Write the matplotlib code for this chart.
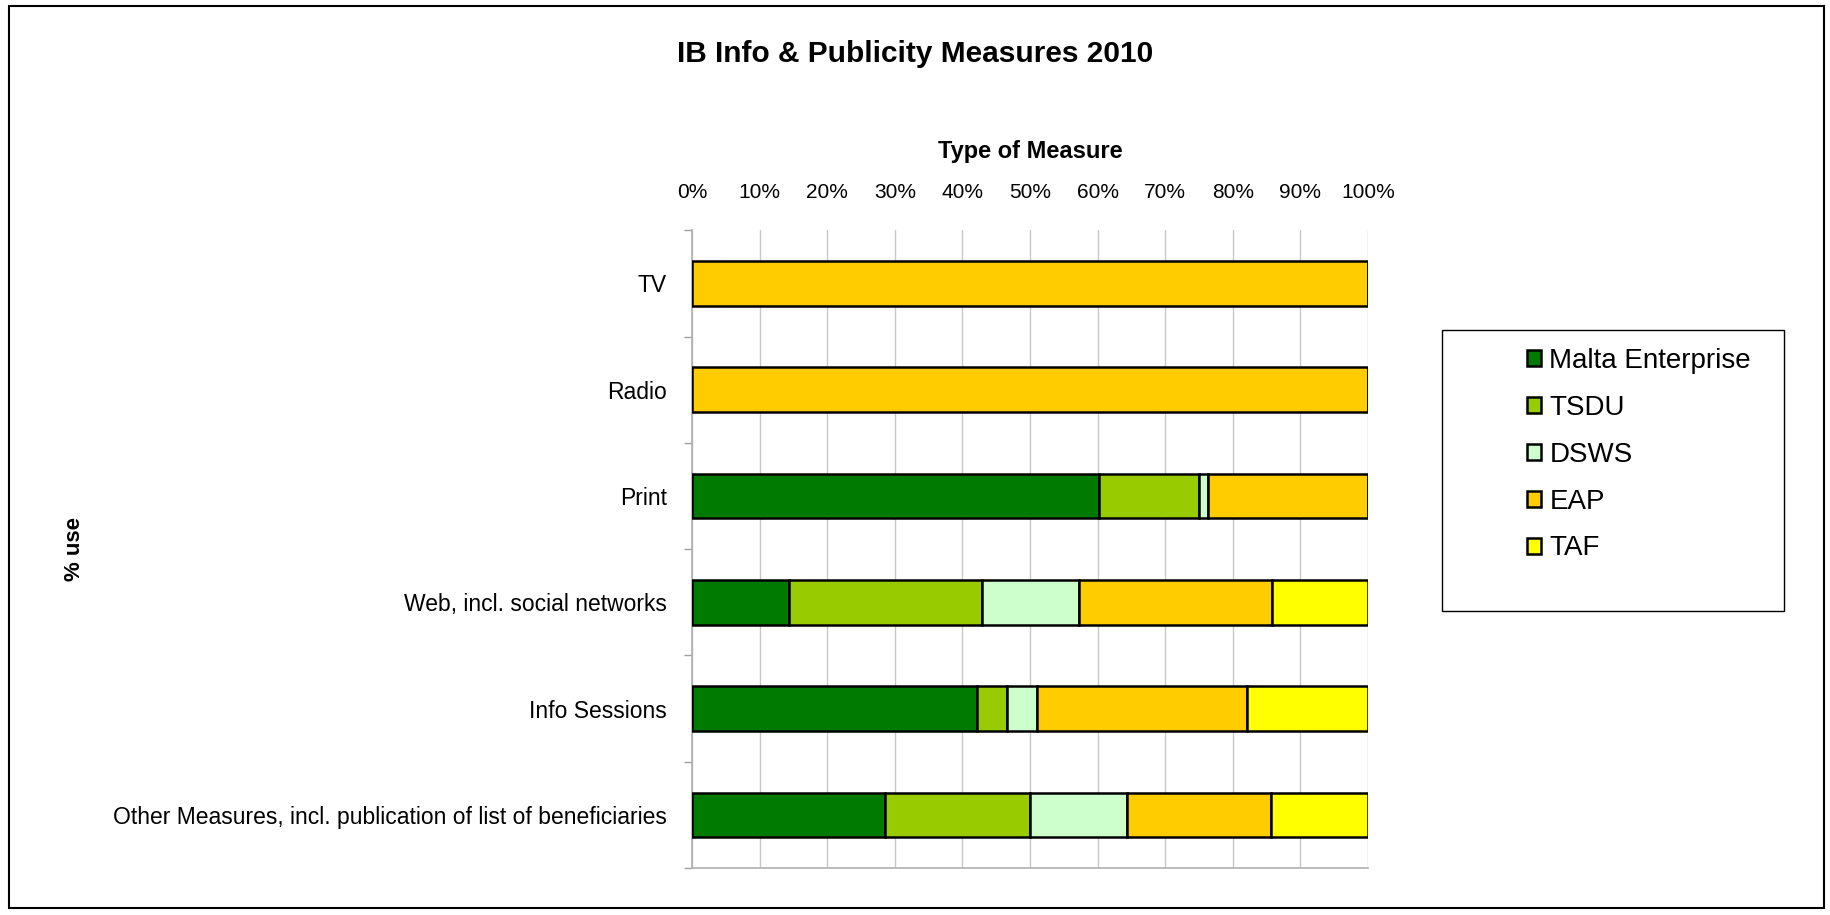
import numpy as np
import matplotlib.pyplot as plt
from matplotlib.patches import Rectangle

plt.rcParams['font.family'] = ['Liberation Sans', 'DejaVu Sans']

categories = ['TV', 'Radio', 'Print', 'Web, incl. social networks', 'Info Sessions',
              'Other Measures, incl. publication of list of beneficiaries']
series = ['Malta Enterprise', 'TSDU', 'DSWS', 'EAP', 'TAF']
colours = ['#007A00', '#99CC00', '#CCFFCC', '#FFCC00', '#FFFF00']

# share of each body per measure (%)
malta_ent = [0, 0, 60.2, 14.3, 42.2, 28.6]
tsdu = [0, 0, 14.8, 28.6, 4.4, 21.4]
dsws = [0, 0, 1.3, 14.3, 4.4, 14.3]
eap = [100, 100, 23.7, 28.6, 31.1, 21.4]
taf = [0, 0, 0, 14.2, 17.9, 14.3]
values = [malta_ent, tsdu, dsws, eap, taf]

fig = plt.figure(figsize=(18.31, 9.15), dpi=100)
ax = fig.add_axes([0.378, 0.0514, 0.369, 0.697])

y = np.arange(len(categories))
left = np.zeros(len(categories))
for name, vals, col in zip(series, values, colours):
    vals = np.array(vals)
    ax.barh(y, vals, left=left, height=0.42, color=col, edgecolor='black',
            linewidth=1.8, label=name, zorder=3)
    left += vals

ax.set_ylim(len(categories) - 0.5, -0.5)
ax.set_xlim(0, 100)
ax.set_xticks(np.arange(0, 101, 10))
ax.set_xticklabels(['%d%%' % v for v in range(0, 101, 10)])
ax.xaxis.tick_top()
ax.tick_params(axis='x', length=0, pad=20, labelsize=15)
ax.set_yticks(y)
ax.set_yticklabels(categories)
ax.set_yticks(np.arange(-0.5, len(categories), 1), minor=True)
ax.tick_params(axis='y', which='major', length=0, pad=18, labelsize=16.5)
ax.tick_params(axis='y', which='minor', length=6, color='#A0A0A0', width=1)

ax.grid(axis='x', color='#C8C8C8', linewidth=1, zorder=0)
for s in ['top', 'right']:
    ax.spines[s].set_visible(False)
for s in ['left', 'bottom']:
    ax.spines[s].set_color('#B0B0B0')
    ax.spines[s].set_linewidth(1.2)

ax.xaxis.set_label_position('top')
ax.set_xlabel('Type of Measure', fontsize=17, fontweight='bold', labelpad=18)
ax.set_ylabel('% use', fontsize=16, fontweight='bold')
ax.yaxis.set_label_coords(-0.898, 0.5)

fig.text(0.5, 0.941, 'IB Info & Publicity Measures 2010', ha='center', va='center',
         fontsize=21.5, fontweight='bold')

# legend box and entries
fig.patches.append(Rectangle((1442 / 1831, 1 - 611 / 915), 342 / 1831, 281 / 915,
                             transform=fig.transFigure, fill=False,
                             edgecolor='black', linewidth=1))
leg = fig.legend(loc='upper left', bbox_to_anchor=(1516 / 1831, 1 - 337 / 915),
                 frameon=False, fontsize=20, handlelength=0.5, handleheight=0.5,
                 handletextpad=0.3, labelspacing=0.75, borderaxespad=0)

# outer chart border
fig.patches.append(Rectangle((9 / 1831, 1 - 908 / 915), 1815 / 1831, 902 / 915,
                             transform=fig.transFigure, fill=False,
                             edgecolor='black', linewidth=1.5))

fig.savefig('out.png', dpi=100)
